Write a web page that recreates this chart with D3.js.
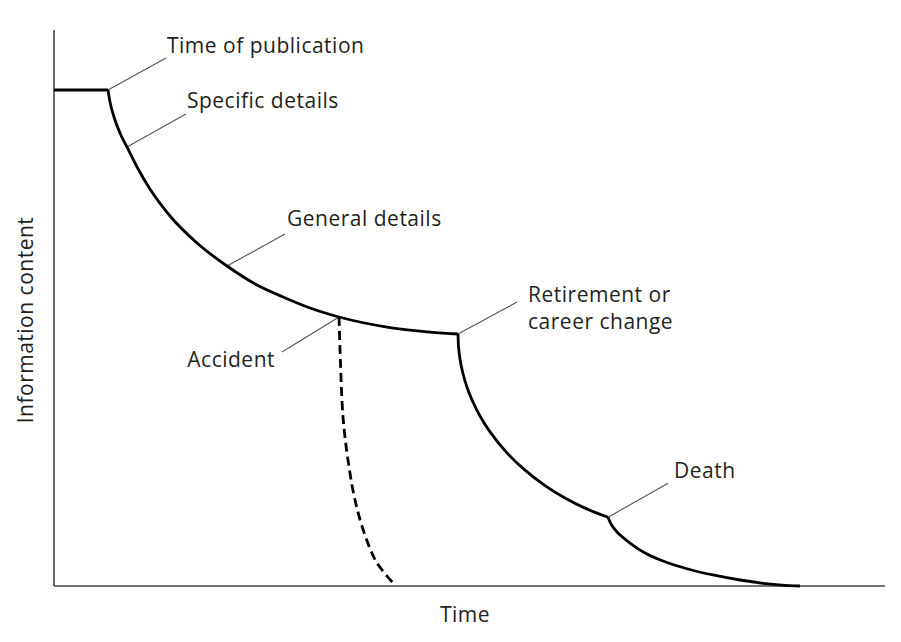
<!DOCTYPE html>
<html>
<head>
<meta charset="utf-8">
<script src="https://cdn.jsdelivr.net/npm/d3@7"></script>
<style>
  html, body { margin: 0; padding: 0; background: #fff; }
  svg { display: block; }
  text { font-family: "Open Sans", "Noto Sans", sans-serif; fill: #231f20; letter-spacing: 0.5px; }
</style>
</head>
<body>
<svg id="chart" width="901" height="642"></svg>
<script>
// ---- Data (time, information content; both on a 0–100 scale) ----
const flatTime = [0, 6.5];
const flatInfo = [89.21, 89.21];

const decayTime = [6.50, 6.74, 7.22, 7.94, 8.78, 9.99, 11.55, 13.96, 17.21, 20.82, 24.43, 27.56, 30.81, 34.30, 40.07, 44.04, 48.62];
const decayInfo = [89.21, 87.05, 84.35, 81.47, 78.96, 75.36, 71.40, 66.55, 61.69, 57.55, 54.14, 51.98, 50.00, 48.38, 46.58, 45.86, 45.32];

const retireTime = [48.62, 48.68, 48.86, 49.22, 49.70, 50.42, 51.26, 52.47, 54.51, 56.68, 59.09, 61.49, 63.90, 66.67];
const retireInfo = [45.32, 43.06, 40.79, 38.17, 35.76, 33.06, 30.58, 27.72, 23.94, 20.83, 18.06, 15.83, 14.01, 12.36];

const deathTime = [66.67, 67.03, 67.75, 69.31, 71.12, 73.29, 76.29, 79.30, 82.55, 85.32, 87.97, 89.77];
const deathInfo = [12.36, 11.15, 9.71, 7.73, 5.94, 4.50, 3.06, 1.98, 1.08, 0.49, 0.13, 0.0];

const accidentTime = [34.30, 34.42, 34.78, 35.38, 36.22, 37.42, 38.87, 41.03];
const accidentInfo = [48.38, 42.45, 30.40, 22.66, 15.47, 9.17, 4.14, 0.18];

const eventLabels = ["Time of publication", "Specific details", "General details", "Accident", "Retirement or|career change", "Death"];
const eventTime = [6.50, 8.78, 20.82, 34.30, 48.62, 66.67];
const eventInfo = [89.21, 78.96, 57.55, 48.38, 45.32, 12.36];

const xAxisLabel = "Time";
const yAxisLabel = "Information content";

// ---- Layout ----
const margin = { left: 54, right: 16, top: 30, bottom: 56 };
const W = 901, H = 642;
const svg = d3.select("#chart");

const x = d3.scaleLinear().domain([0, 100]).range([margin.left, W - margin.right]);
const y = d3.scaleLinear().domain([0, 100]).range([H - margin.bottom, margin.top]);

// Leader-line layout (pixel offsets from anchor) and text offsets from leader end
const leaderLayout = [
  { dx: 58, dy: -32, tx: 1, ty: -5, anchor: "start" },
  { dx: 59, dy: -33, tx: 1, ty: -6, anchor: "start" },
  { dx: 58, dy: -32, tx: 2, ty: -8, anchor: "start" },
  { dx: -57, dy: 35, tx: -7, ty: 15, anchor: "end" },
  { dx: 59, dy: -32, tx: 11, ty: 0, anchor: "start" },
  { dx: 60, dy: -34, tx: 6, ty: -5, anchor: "start" }
];
const fontSize = 21;

// ---- Axes (plain lines, no ticks) ----
svg.append("line")
  .attr("x1", x(0)).attr("x2", x(0))
  .attr("y1", y(100)).attr("y2", y(0))
  .attr("stroke", "#444").attr("stroke-width", 1.6);
svg.append("line")
  .attr("x1", x(0)).attr("x2", x(100))
  .attr("y1", y(0)).attr("y2", y(0))
  .attr("stroke", "#444").attr("stroke-width", 1.6);

svg.append("text")
  .attr("x", 465).attr("y", 622)
  .attr("text-anchor", "middle")
  .attr("font-size", fontSize)
  .text(xAxisLabel);

svg.append("text")
  .attr("transform", "translate(33,320) rotate(-90)")
  .attr("text-anchor", "middle")
  .attr("font-size", fontSize)
  .text(yAxisLabel);

// ---- Curves ----
const lineMono = d3.line()
  .x(d => x(d[0])).y(d => y(d[1]))
  .curve(d3.curveMonotoneX);
const lineSmooth = d3.line()
  .x(d => x(d[0])).y(d => y(d[1]))
  .curve(d3.curveCatmullRom.alpha(0.5));

function seg(ts, vs) { return ts.map((t, i) => [t, vs[i]]); }

// Leader lines and labels (drawn under curves)
eventLabels.forEach((lab, i) => {
  const L = leaderLayout[i];
  const ax = x(eventTime[i]), ay = y(eventInfo[i]);
  const ex = ax + L.dx, ey = ay + L.dy;
  svg.append("line")
    .attr("x1", ax).attr("y1", ay).attr("x2", ex).attr("y2", ey)
    .attr("stroke", "#555").attr("stroke-width", 1.1);
  const lines = lab.split("|");
  const t = svg.append("text")
    .attr("x", ex + L.tx).attr("y", ey + L.ty)
    .attr("text-anchor", L.anchor)
    .attr("font-size", fontSize);
  lines.forEach((s, k) => {
    t.append("tspan").attr("x", ex + L.tx).attr("dy", k === 0 ? 0 : 27).text(s);
  });
});

const solid = [
  [lineMono, seg(flatTime, flatInfo)],
  [lineMono, seg(decayTime, decayInfo)],
  [lineSmooth, seg(retireTime, retireInfo)],
  [lineSmooth, seg(deathTime, deathInfo)]
];
solid.forEach(([gen, s]) => {
  svg.append("path").attr("d", gen(s))
    .attr("fill", "none").attr("stroke", "#000").attr("stroke-width", 2.8)
    .attr("stroke-linecap", "butt");
});

svg.append("path").attr("d", lineSmooth(seg(accidentTime, accidentInfo)))
  .attr("fill", "none").attr("stroke", "#000").attr("stroke-width", 2.8)
  .attr("stroke-dasharray", "9,5");
</script>
</body>
</html>
